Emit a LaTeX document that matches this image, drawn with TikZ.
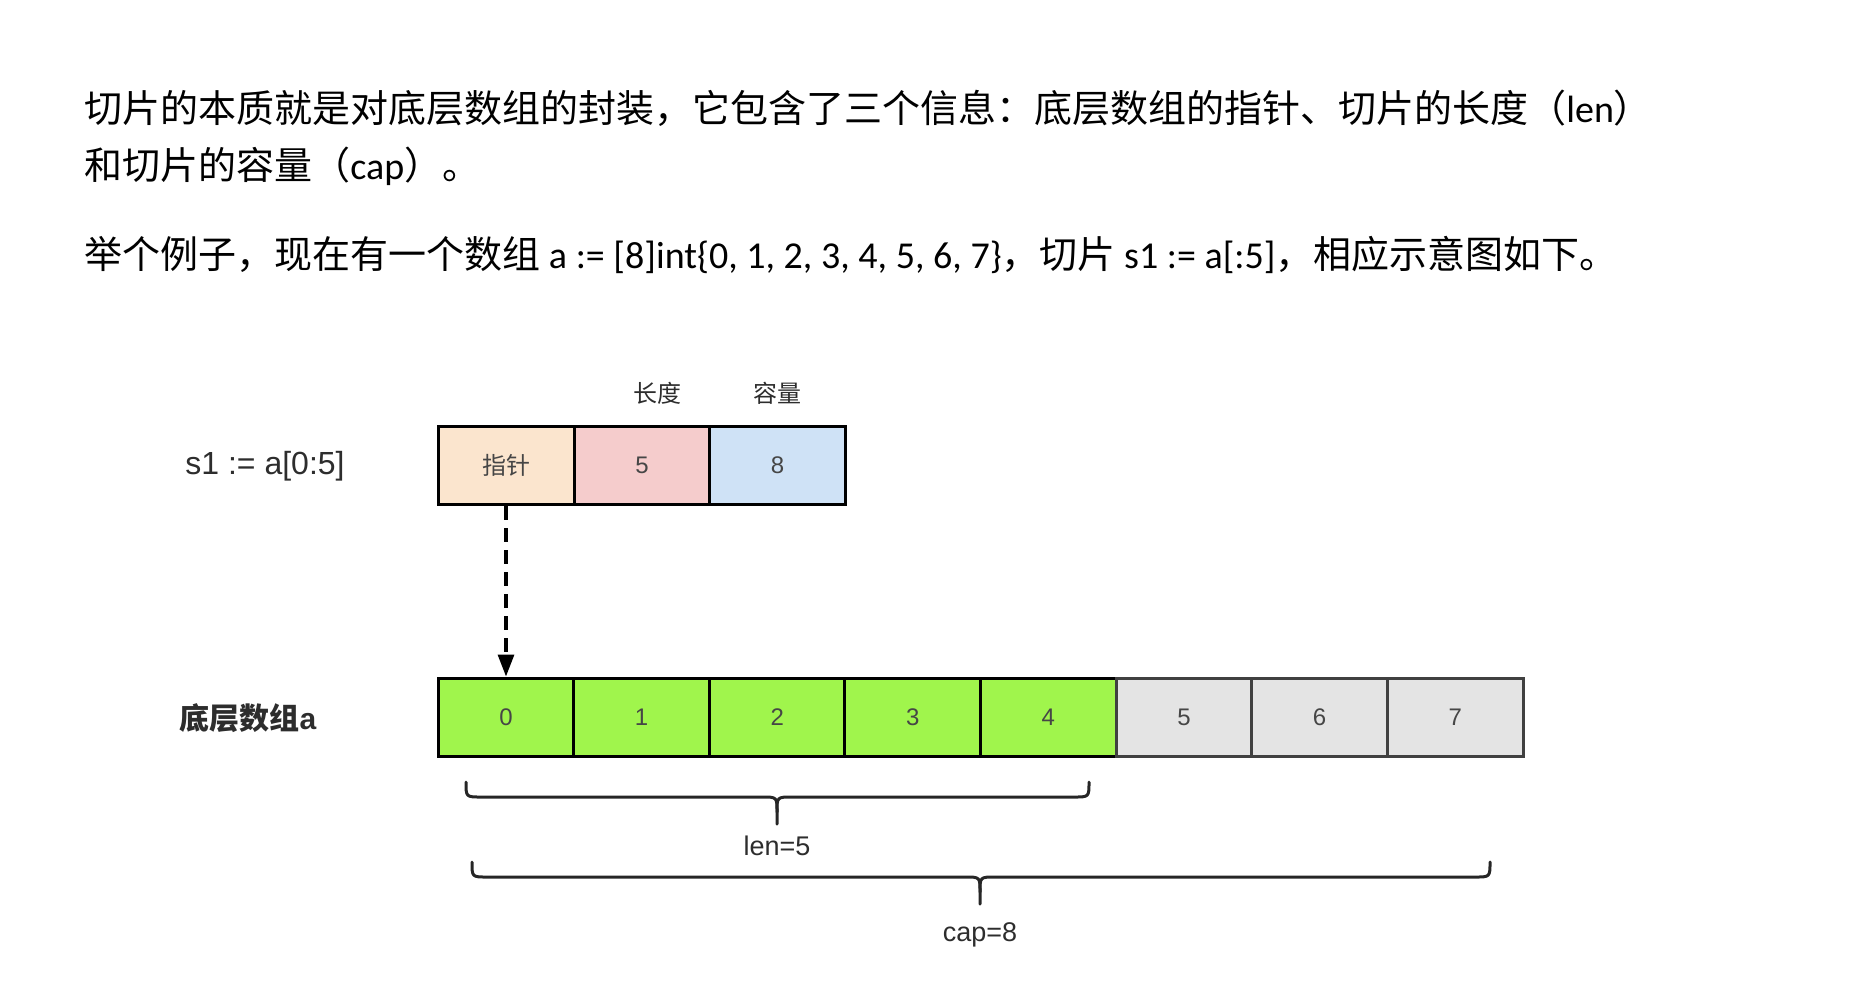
\documentclass[tikz,border=0pt]{standalone}
\usepackage{fontspec}
\setmainfont{Carlito}
\newfontfamily\cjk{Noto Sans CJK SC}
\newfontfamily\hv{Liberation Sans}
\usetikzlibrary{arrows.meta}
\newcommand\latn[1]{{\rmfamily #1}}
\definecolor{peach}{RGB}{251,229,206}
\definecolor{pinkc}{RGB}{245,204,204}
\definecolor{bluec}{RGB}{207,226,246}
\definecolor{limec}{RGB}{160,245,76}
\definecolor{grayc}{RGB}{228,228,228}
\definecolor{celltxt}{RGB}{70,70,70}
\definecolor{lbl}{RGB}{45,45,45}
\begin{document}
\begin{tikzpicture}[x=0.5pt,y=-0.5pt,
  para/.style={anchor=base west, inner sep=0pt, font=\fontsize{19}{23}\selectfont},
  cell/.style={draw=black, line width=1.5pt, minimum width=68pt, minimum height=39pt, inner sep=0pt, font=\hv\fontsize{12}{14}\selectfont, text=celltxt},
  greycell/.style={cell, draw=black!75, fill=grayc},
  toplbl/.style={font=\cjk\fontsize{12}{14}\selectfont, text=lbl, inner sep=0pt},
  sidelbl/.style={font=\hv\fontsize{16}{19}\selectfont, text=lbl, inner sep=0pt},
  bracelbl/.style={font=\hv\fontsize{13.5}{16}\selectfont, text=lbl, inner sep=0pt},
  bracepath/.style={line width=1.5pt, draw=black!85, line cap=round, line join=round}
]
\useasboundingbox (0,0) rectangle (1872,982);

% paragraph text
\node[para] (l1) at (84,122) {\cjk 切片的本质就是对底层数组的封装，它包含了三个信息：底层数组的指针、切片的长度（\latn{len}）};
\node[para] (l2) at (84,179) {\cjk 和切片的容量（\latn{cap}）。};
\node[para] (l3) at (84,268) {{\cjk 举个例子，现在有一个数组}\latn{\ a := [8]int\{0, 1, 2, 3, 4, 5, 6, 7\}}{\cjk ，切片}\latn{\ s1 := a[:5]}{\cjk ，相应示意图如下。}};

% slice header
\node[toplbl] (lenlbl) at (657,393) {长度};
\node[toplbl] (caplbl) at (777,393) {容量};
\node[sidelbl] (s1lbl) at (265,466) {s1 := a[0:5]};
\node[cell, fill=peach, font=\cjk\fontsize{12}{14}\selectfont] (ptr) at (506,465.5) {指针};
\node[cell, fill=pinkc] (lenc) at (642,465.5) {5};
\node[cell, fill=bluec] (capc) at (777.5,465.5) {8};

% underlying array
\node[sidelbl, font=\cjk\bfseries\fontsize{15}{18}\selectfont] (arrlbl) at (248,718) {底层数组{\hv\bfseries a}};
\foreach \i in {0,...,4}
  \node[cell, fill=limec] (a\i) at ({506+135.6*\i},717) {\i};
\foreach \i in {5,6,7}
  \node[greycell] (a\i) at ({506+135.6*\i},717) {\i};

% pointer arrow
\draw[line width=1.6pt, dash pattern=on 7pt off 4pt, -{Triangle[length=11pt,width=8pt]}] (ptr.south) -- (a0.north);

% len brace
\draw[bracepath] (466,782) .. controls (466,797) .. (481,797) -- (762,797) .. controls (777,797) .. (777,812) -- (777,824);
\draw[bracepath] (777,812) .. controls (777,797) .. (792,797) -- (1074,797) .. controls (1089,797) .. (1089,782);
\node[bracelbl] (lenv) at (777,846) {len=5};

% cap brace
\draw[bracepath] (472,862) .. controls (472,877) .. (487,877) -- (965,877) .. controls (980,877) .. (980,892) -- (980,904);
\draw[bracepath] (980,892) .. controls (980,877) .. (995,877) -- (1475,877) .. controls (1490,877) .. (1490,862);
\node[bracelbl] (capv) at (980,935) {cap=8};
\end{tikzpicture}
\end{document}
